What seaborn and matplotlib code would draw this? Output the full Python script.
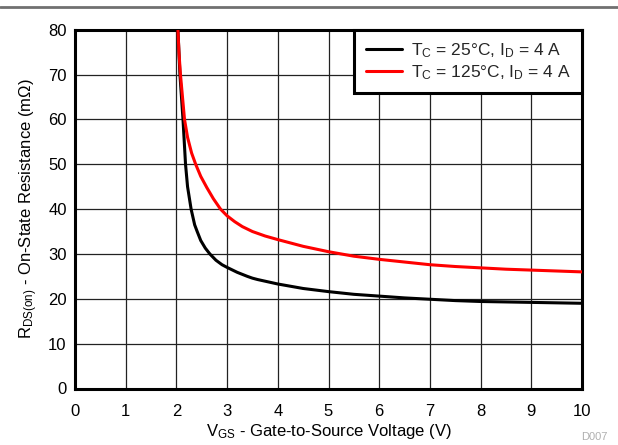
import matplotlib
matplotlib.use("Agg")
import matplotlib.pyplot as plt
import seaborn as sns
import pandas as pd
from matplotlib.lines import Line2D

sns.set_theme(style="white")
plt.rcParams['font.family'] = ['Liberation Sans', 'DejaVu Sans']
plt.rcParams['mathtext.fontset'] = 'custom'
plt.rcParams['mathtext.rm'] = 'Liberation Sans'
plt.rcParams['mathtext.it'] = 'Liberation Sans'

vgs_25 = [2.03, 2.05, 2.07, 2.10, 2.13, 2.155, 2.18, 2.22, 2.29, 2.36, 2.41, 2.48, 2.57, 2.66, 2.78, 2.9, 3.0,
          3.2, 3.4, 3.5, 3.6, 3.8, 4.0, 4.5, 5.0, 5.5, 6.0, 6.5, 7.0, 7.5, 8.0, 9.0, 10.0]
rds_25 = [80, 75, 70, 65, 60, 55, 50, 45, 40, 36.5, 35, 33, 31.3, 30, 28.6, 27.6, 27.0,
          25.9, 25.0, 24.6, 24.3, 23.8, 23.3, 22.3, 21.6, 21.0, 20.6, 20.2, 19.9, 19.6, 19.4, 19.2, 19.0]
vgs_125 = [2.03, 2.05, 2.08, 2.12, 2.16, 2.22, 2.30, 2.38, 2.48, 2.6, 2.73, 2.87, 3.0, 3.15, 3.3, 3.5, 3.75,
           4.0, 4.5, 5.0, 5.5, 6.0, 6.5, 7.0, 7.5, 8.0, 8.5, 9.0, 9.5, 10.0]
rds_125 = [80, 75, 70, 65, 60, 56, 52.5, 50, 47.3, 44.8, 42.3, 40, 38.5, 37.2, 36.1, 35.0, 34.0,
           33.2, 31.7, 30.5, 29.5, 28.8, 28.2, 27.6, 27.2, 26.9, 26.6, 26.4, 26.2, 26.0]
labels = [r"T$_\mathregular{C}$ = 25°C, I$_\mathregular{D}$ = 4 A",
          r"T$_\mathregular{C}$ = 125°C, I$_\mathregular{D}$ = 4 A"]
colors = ["#000000", "#ff0000"]

df = pd.concat([
    pd.DataFrame({"VGS": vgs_25, "RDS": rds_25, "series": labels[0]}),
    pd.DataFrame({"VGS": vgs_125, "RDS": rds_125, "series": labels[1]}),
])

fig = plt.figure(figsize=(6.18, 4.45), dpi=100)
ax = fig.add_axes([75 / 618, 1 - 388.5 / 445, 507 / 618, 358.8 / 445])
sns.lineplot(data=df, x="VGS", y="RDS", hue="series", palette=colors,
             sort=False, estimator=None, linewidth=2.2, ax=ax, legend=False, zorder=3)

ax.set_xlim(0, 10)
ax.set_ylim(0, 80)
ax.set_xticks(range(0, 11))
ax.set_yticks(range(0, 81, 10))
ax.grid(True, color="#222222", linewidth=0.9)
for s in ax.spines.values():
    s.set_color("black")
    s.set_linewidth(2.2)
ax.tick_params(axis="x", labelsize=12, colors="black", length=0, pad=11)
ax.tick_params(axis="y", labelsize=12, colors="black", length=0, pad=6)
ax.set_xlabel(r"V$_\mathregular{GS}$ - Gate-to-Source Voltage (V)", fontsize=12, color="black", labelpad=2)
ax.set_ylabel(r"R$_\mathregular{DS(on)}$ - On-State Resistance (m$\Omega$)", fontsize=12, color="black", labelpad=6)

handles = [Line2D([0], [0], color=c, lw=2.2) for c in colors]
leg = ax.legend(handles, labels, loc="upper right", fontsize=12.5, frameon=True,
                fancybox=False, borderaxespad=0, handlelength=2.1, handletextpad=0.5,
                borderpad=0.65, labelspacing=0.2)
leg.get_frame().set_edgecolor("black")
leg.get_frame().set_linewidth(2.2)
leg.get_frame().set_alpha(1)

fig.add_artist(Line2D([0, 1], [1 - 7 / 445, 1 - 7 / 445], color="#707070", lw=2, transform=fig.transFigure))
fig.text(607 / 618, 1 - 437 / 445, "D007", color="#b0b0b0", fontsize=8, ha="right", va="center")

fig.savefig("out.png", dpi=100)
